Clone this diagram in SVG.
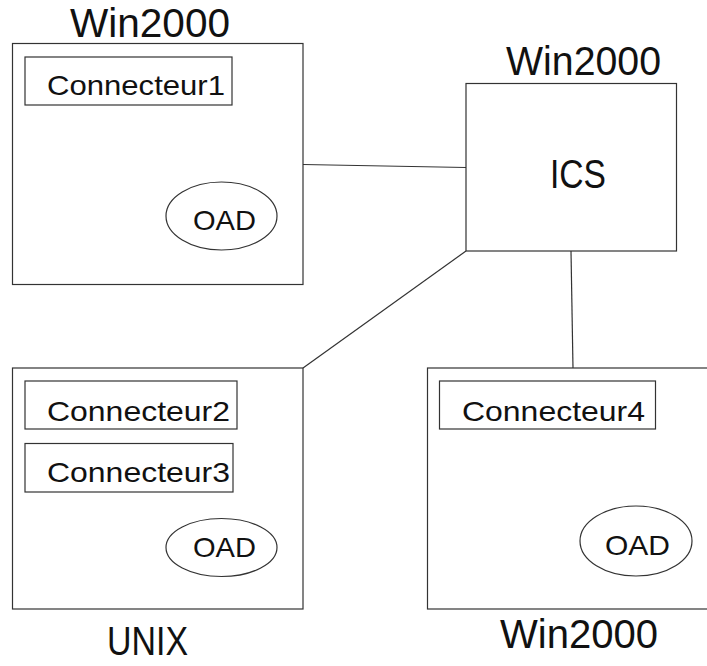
<svg xmlns="http://www.w3.org/2000/svg" width="707" height="666" viewBox="0 0 707 666">
<style>
.box{fill:none;stroke:#333;stroke-width:1.2}
.edge{fill:none;stroke:#333;stroke-width:1.2}
.t{font-family:"Liberation Sans",Arial,sans-serif;fill:#111}
.title{font-size:40px}
.lbl{font-size:28px}
</style>
<rect width="707" height="666" fill="#fff"/>
<g id="connectors">
<line class="edge" x1="303" y1="164.5" x2="466" y2="167.5"/>
<line class="edge" x1="466" y1="251" x2="303" y2="368"/>
<line class="edge" x1="571" y1="251" x2="573" y2="368"/>
</g>
<g id="node-win2000-1">
<text class="t title" x="70" y="37" textLength="160" lengthAdjust="spacingAndGlyphs">Win2000</text>
<rect class="box" x="12.5" y="43.5" width="290.5" height="241"/>
<g id="connecteur1">
<rect class="box" x="25" y="57" width="207" height="48"/>
<text class="t lbl" x="47" y="95" textLength="178" lengthAdjust="spacingAndGlyphs">Connecteur1</text>
</g>
<g id="oad1">
<ellipse class="box" cx="221.5" cy="216" rx="55.5" ry="34"/>
<text class="t lbl" x="193" y="230" textLength="63" lengthAdjust="spacingAndGlyphs">OAD</text>
</g>
</g>
<g id="node-ics">
<text class="t title" x="506" y="75" textLength="155" lengthAdjust="spacingAndGlyphs">Win2000</text>
<rect class="box" x="466" y="83.5" width="210.5" height="167.5"/>
<text class="t title" x="550" y="188" textLength="56" lengthAdjust="spacingAndGlyphs">ICS</text>
</g>
<g id="node-unix">
<rect class="box" x="12.5" y="368" width="290.5" height="241"/>
<g id="connecteur2">
<rect class="box" x="25" y="381" width="212" height="48"/>
<text class="t lbl" x="47" y="421" textLength="183" lengthAdjust="spacingAndGlyphs">Connecteur2</text>
</g>
<g id="connecteur3">
<rect class="box" x="25" y="443.5" width="208" height="48.5"/>
<text class="t lbl" x="47" y="482" textLength="183" lengthAdjust="spacingAndGlyphs">Connecteur3</text>
</g>
<g id="oad2">
<ellipse class="box" cx="221.5" cy="547.5" rx="55.5" ry="29"/>
<text class="t lbl" x="193" y="557" textLength="63" lengthAdjust="spacingAndGlyphs">OAD</text>
</g>
<text class="t title" x="107" y="655" textLength="81" lengthAdjust="spacingAndGlyphs">UNIX</text>
</g>
<g id="node-win2000-4">
<rect class="box" x="427.5" y="368" width="290" height="241"/>
<g id="connecteur4">
<rect class="box" x="439.5" y="381" width="216" height="48"/>
<text class="t lbl" x="462" y="421" textLength="183" lengthAdjust="spacingAndGlyphs">Connecteur4</text>
</g>
<g id="oad4">
<ellipse class="box" cx="636" cy="541" rx="56" ry="35"/>
<text class="t lbl" x="605" y="555" textLength="65" lengthAdjust="spacingAndGlyphs">OAD</text>
</g>
<text class="t title" x="500" y="648" textLength="158" lengthAdjust="spacingAndGlyphs">Win2000</text>
</g>
</svg>
